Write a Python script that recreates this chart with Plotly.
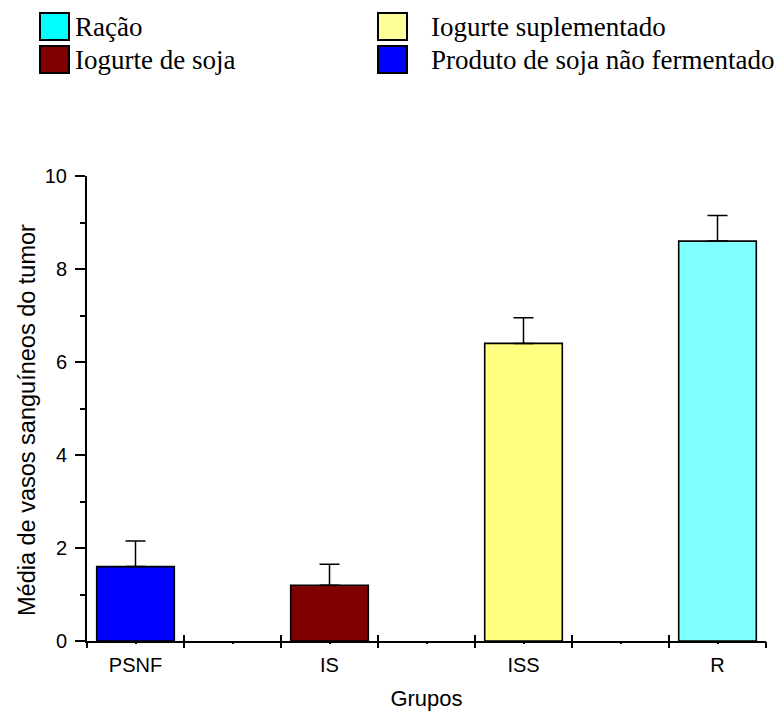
import plotly.graph_objects as go

# ---- data ----
categories = ["PSNF", "IS", "ISS", "R"]
means = [1.6, 1.2, 6.4, 8.6]
errors_up = [0.55, 0.45, 0.55, 0.55]
bar_colors = ["#0000FF", "#800000", "#FFFF80", "#80FFFF"]

legend_labels = ["Ração", "Iogurte suplementado", "Iogurte de soja", "Produto de soja não fermentado"]
legend_colors = ["#00FFFF", "#FFFF99", "#800000", "#0000FF"]

y_title = "Média de vasos sanguíneos do tumor"
x_title = "Grupos"

# ---- layout constants ----
W, H = 783, 713
ML, MR, MT, MB = 87, 17, 176, 72
SANS = "Arial, Liberation Sans, sans-serif"
SERIF = "Times New Roman, Liberation Serif, serif"


def px_x(px):
    return (px - ML) / (W - ML - MR)


def px_y(py):
    return (H - MB - py) / (H - MT - MB)


fig = go.Figure()

fig.add_trace(go.Bar(
    x=categories, y=means, width=0.4,
    marker=dict(color=bar_colors, line=dict(color="black", width=1.6)),
    error_y=dict(type="data", array=errors_up, arrayminus=[0] * len(means),
                 symmetric=False, color="black", thickness=1.5, width=10),
    showlegend=False, hoverinfo="skip",
))

# empty helper traces so the tick-only overlay axes are drawn
for ax in ["x2", "x3"]:
    fig.add_trace(go.Scatter(x=[], y=[], xaxis=ax, yaxis="y",
                             showlegend=False, hoverinfo="skip"))

# ---- manual legend (2 columns x 2 rows) ----
col_x = [40, 378]
row_y = [13, 46]
box_w, box_h = 29, 27
text_gap = [4, 22]
shapes = []
annotations = []
for i, (lab, col) in enumerate(zip(legend_labels, legend_colors)):
    c, r = i % 2, i // 2
    x0, y0 = col_x[c], row_y[r]
    shapes.append(dict(type="rect", xref="paper", yref="paper",
                       x0=px_x(x0), x1=px_x(x0 + box_w),
                       y0=px_y(y0), y1=px_y(y0 + box_h),
                       fillcolor=col, line=dict(color="black", width=2)))
    annotations.append(dict(xref="paper", yref="paper",
                            x=px_x(x0 + box_w + text_gap[c]), y=px_y(y0 + box_h / 2),
                            xanchor="left", yanchor="middle", showarrow=False,
                            text=lab, font=dict(family=SERIF, size=27, color="black")))

# y-axis title (placed slightly below the axis centre, as in the original)
annotations.append(dict(xref="paper", yref="paper", x=px_x(27), y=px_y(420),
                        xanchor="center", yanchor="middle", showarrow=False,
                        textangle=-90, text=y_title,
                        font=dict(family=SANS, size=23.5, color="black")))

n = len(categories)
fig.update_layout(
    width=W, height=H, autosize=False,
    margin=dict(l=ML, r=MR, t=MT, b=MB, pad=0),
    paper_bgcolor="white", plot_bgcolor="white",
    showlegend=False,
    shapes=shapes, annotations=annotations,
    xaxis=dict(
        type="category", range=[-0.25, n - 0.75],
        showline=True, linecolor="black", linewidth=2,
        ticks="outside", ticklen=5, tickcolor="rgba(0,0,0,0)",
        tickfont=dict(family=SANS, size=20, color="black"),
        title=dict(text=x_title, font=dict(family=SANS, size=22, color="black"), standoff=16),
        showgrid=False, zeroline=False, fixedrange=True, automargin=False,
    ),
    xaxis2=dict(
        overlaying="x", anchor="y", range=[0, 2 * n - 1],
        tick0=0, dtick=1, ticks="outside", ticklen=6, tickwidth=2, tickcolor="black",
        minor=dict(dtick=0.5, ticks="outside", ticklen=2, tickwidth=1.5, tickcolor="black"),
        showticklabels=False, showline=False, showgrid=False, zeroline=False, fixedrange=True,
    ),
    xaxis3=dict(
        overlaying="x", anchor="y", range=[0, 2 * n - 1],
        tick0=0, dtick=1, ticks="inside", ticklen=6, tickwidth=2, tickcolor="black",
        showticklabels=False, showline=False, showgrid=False, zeroline=False, fixedrange=True,
    ),
    yaxis=dict(
        range=[0, 10], tick0=0, dtick=2,
        showline=True, linecolor="black", linewidth=2,
        ticks="outside", ticklen=10, tickwidth=2, tickcolor="black",
        ticklabelstandoff=4,
        minor=dict(dtick=1, ticks="outside", ticklen=5, tickwidth=2, tickcolor="black"),
        tickfont=dict(family=SANS, size=20, color="black"),
        showgrid=False, zeroline=False, fixedrange=True, automargin=False,
    ),
)

fig.write_html("out.html")
